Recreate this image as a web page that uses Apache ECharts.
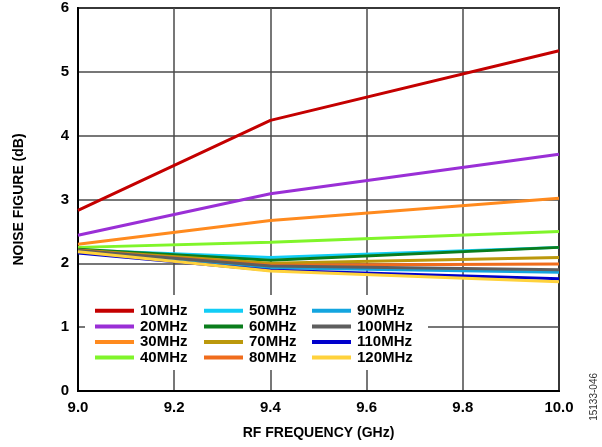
<!DOCTYPE html>
<html>
<head>
<meta charset="utf-8">
<script src="https://cdn.jsdelivr.net/npm/echarts@6/dist/echarts.min.js"></script>
<style>
html,body{margin:0;padding:0;background:#fff;}
#nf{width:602px;height:447px;}
</style>
</head>
<body>
<div id="nf"></div>
<script>
var freqGHz = [9.0, 9.4, 10.0];
var nf10 = [2.83, 4.24, 5.33];
var nf20 = [2.44, 3.09, 3.71];
var nf30 = [2.30, 2.67, 3.02];
var nf40 = [2.25, 2.33, 2.50];
var nf50 = [2.21, 2.09, 2.25];
var nf60 = [2.22, 2.05, 2.25];
var nf70 = [2.21, 2.00, 2.09];
var nf80 = [2.20, 1.97, 1.99];
var nf90 = [2.19, 1.93, 1.86];
var nf100 = [2.20, 1.96, 1.90];
var nf110 = [2.16, 1.89, 1.76];
var nf120 = [2.18, 1.88, 1.71];
var names = ['10MHz','20MHz','30MHz','40MHz','50MHz','60MHz','70MHz','80MHz','90MHz','100MHz','110MHz','120MHz'];
var values = [nf10,nf20,nf30,nf40,nf50,nf60,nf70,nf80,nf90,nf100,nf110,nf120];
var colors = ['#c40000','#9a2fd6','#ff8a1e','#80f52a','#12cdf6','#0a7d1c','#bb980c','#f06c1c','#13a5df','#5e5e5e','#0000cc','#ffd23c'];

var myChart = echarts.init(document.getElementById('nf'));

function pts(arr){
    return arr.map(function(v,i){ return [freqGHz[i], v]; });
}

var series = names.map(function(n,i){
    return {
        name: n,
        type: 'line',
        data: pts(values[i]),
        symbol: 'none',
        color: colors[i],
        lineStyle: {width: 3, color: colors[i]},
        z: 2 + i * 0.01
    };
});

var fontB = {fontFamily: 'Liberation Sans, Arial', fontWeight: 'bold', fontSize: 14, color: '#000'};
var fontT = {fontFamily: 'Liberation Sans, Arial', fontWeight: 'bold', fontSize: 15, color: '#000'};

function legendCol(left, list){
    return {
        orient: 'vertical',
        left: left,
        top: 303,
        data: list,
        icon: 'rect',
        itemWidth: 39,
        itemHeight: 4,
        itemGap: 0,
        padding: 0,
        selectedMode: false,
        z: 6,
        textStyle: {fontFamily: 'Liberation Sans, Arial', fontWeight: 'bold', fontSize: 15, color: '#000', lineHeight: 15.6, padding: [0,0,0,1]}
    };
}

option = {
    animation: false,
    backgroundColor: '#fff',
    grid: {left: 78, right: 43, top: 8, bottom: 56, outerBoundsMode: 'none', containLabel: false,
           show: true, borderColor: '#000', borderWidth: 2, backgroundColor: 'transparent'},
    xAxis: {
        type: 'value',
        min: 9.0, max: 10.0, interval: 0.2,
        name: 'RF FREQUENCY (GHz)',
        nameLocation: 'middle',
        nameGap: 35,
        nameTextStyle: fontB,
        axisLine: {lineStyle: {color: '#000', width: 2}},
        axisTick: {show: false},
        axisLabel: Object.assign({margin: 9, formatter: function(v){ return v.toFixed(1); }}, fontT),
        splitLine: {lineStyle: {color: '#4a4a4a', width: 1.5}}
    },
    yAxis: {
        type: 'value',
        min: 0, max: 6, interval: 1,
        name: 'NOISE FIGURE (dB)',
        nameLocation: 'middle',
        nameGap: 52,
        nameTextStyle: fontB,
        axisLine: {show: true, lineStyle: {color: '#000', width: 2}},
        axisTick: {show: false},
        axisLabel: Object.assign({margin: 9}, fontT),
        splitLine: {lineStyle: {color: '#4a4a4a', width: 1.5}}
    },
    legend: [
        legendCol(95, names.slice(0,4)),
        legendCol(204, names.slice(4,8)),
        legendCol(312, names.slice(8,12))
    ],
    graphic: [
        {type: 'rect', left: 85, top: 295, shape: {width: 343, height: 75}, style: {fill: '#fff'}, z: 5},
        {type: 'text', left: 589, top: 373, rotation: Math.PI / 2,
         style: {text: '15133-046', fill: '#333', font: '10px Liberation Sans, Arial'}, z: 5}
    ],
    series: series
};
myChart.setOption(option);
</script>
</body>
</html>
